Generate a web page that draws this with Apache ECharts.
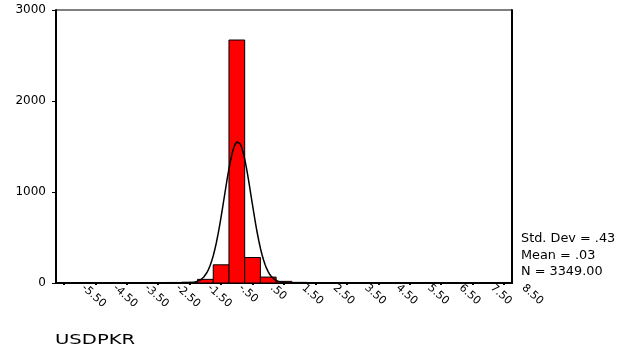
<!DOCTYPE html>
<html>
<head>
<meta charset="utf-8">
<script src="https://cdn.jsdelivr.net/npm/echarts@6/dist/echarts.min.js"></script>
<style>
  html, body { margin: 0; padding: 0; background: #fff; }
  #chart { width: 618px; height: 348px; }
</style>
</head>
<body>
<div id="chart"></div>
<script>
// Histogram of USDPKR returns with a fitted normal curve.
const variableName = 'USDPKR';
const binWidth = 0.5;
const binCenters = [-5.5, -5, -4.5, -4, -3.5, -3, -2.5, -2, -1.5, -1, -0.5, 0, 0.5, 1, 1.5,
                    2, 2.5, 3, 3.5, 4, 4.5, 5, 5.5, 6, 6.5, 7, 7.5, 8, 8.5];
const binCounts  = [1, 0, 0, 0, 1, 1, 2, 6, 9, 40, 200, 2670, 280, 65, 18,
                    7, 3, 1, 1, 0, 0, 0, 0, 0, 0, 0, 0, 0, 1];
const xTickValues = [-5.5, -4.5, -3.5, -2.5, -1.5, -0.5, 0.5, 1.5, 2.5, 3.5, 4.5, 5.5, 6.5, 7.5, 8.5];
const yTickValues = [0, 1000, 2000, 3000];
const stdDev = 0.43;
const mean = 0.03;
const nCases = 3349;

const xMin = -5.75, xMax = 8.75;
const font = 'DejaVu Sans';

// SPSS-style number format: ".50", "-.50", "-5.50"
function fmt(v) {
  const s = Math.abs(v).toFixed(2);
  const body = Math.abs(v) < 1 ? s.slice(1) : s;
  return (v < 0 ? '-' : '') + body;
}

// Normal density scaled to counts per bin (N x bin width), from the stated mean and SD.
const curve = [];
for (let i = 0; i <= 290; i++) {
  const x = xMin + i * 0.05;
  const z = (x - mean) / stdDev;
  curve.push([x, nCases * binWidth / (stdDev * Math.sqrt(2 * Math.PI)) * Math.exp(-0.5 * z * z)]);
}

const bars = binCenters.map((c, i) => [c, binCounts[i]]);

const chart = echarts.init(document.getElementById('chart'), null, { renderer: 'canvas' });
chart.setOption({
  animation: false,
  backgroundColor: '#fff',
  grid: {
    left: 56, right: 106, top: 10, bottom: 65,
    show: true, borderColor: '#000', borderWidth: 1
  },
  xAxis: {
    type: 'value', min: xMin, max: xMax,
    splitLine: { show: false },
    axisLine: { show: true, onZero: false, lineStyle: { color: '#000', width: 2 } },
    axisTick: { show: true, customValues: xTickValues, length: 2, inside: false,
                lineStyle: { color: '#000', width: 2 } },
    axisLabel: {
      customValues: xTickValues,
      formatter: fmt,
      rotate: -42,
      margin: -14,
      padding: [0, 0, 0, 26],
      color: '#000',
      fontFamily: font,
      fontSize: 11
    }
  },
  yAxis: [{
    type: 'value', min: 0, max: 3000, interval: 1000,
    splitLine: { show: false },
    axisLine: { show: true, onZero: false, lineStyle: { color: '#000', width: 2 } },
    axisTick: { show: true, length: 4, lineStyle: { color: '#000' } },
    axisLabel: {
      customValues: yTickValues,
      formatter: v => String(v),
      margin: 10, color: '#000', fontFamily: font, fontSize: 12
    }
  }, {
    type: 'value', min: 0, max: 3000, position: 'right',
    splitLine: { show: false },
    axisLine: { show: true, onZero: false, lineStyle: { color: '#000', width: 2 } },
    axisTick: { show: false }, axisLabel: { show: false }
  }],
  series: [{
    type: 'custom',
    data: bars,
    renderItem: function (params, api) {
      const c = api.value(0), v = api.value(1);
      if (!v) return null;
      const p0 = api.coord([c - binWidth / 2, v]);
      const p1 = api.coord([c + binWidth / 2, 0]);
      return {
        type: 'rect',
        shape: { x: p0[0], y: p0[1], width: p1[0] - p0[0], height: p1[1] - p0[1] },
        style: { fill: '#ff0000', stroke: '#000', lineWidth: 1 }
      };
    },
    z: 2
  }, {
    type: 'line',
    data: curve,
    showSymbol: false,
    symbol: 'none',
    lineStyle: { color: '#000', width: 1.5 },
    z: 3
  }],
  graphic: [
    { type: 'text', left: 521, top: 233, scaleX: 1.07,
      style: { text: 'Std. Dev = ' + fmt(stdDev), fill: '#000', font: '12px "DejaVu Sans"' } },
    { type: 'text', left: 521, top: 250, scaleX: 1.07,
      style: { text: 'Mean = ' + fmt(mean), fill: '#000', font: '12px "DejaVu Sans"' } },
    { type: 'text', left: 521, top: 266, scaleX: 1.07,
      style: { text: 'N = ' + nCases.toFixed(2), fill: '#000', font: '12px "DejaVu Sans"' } },
    { type: 'text', left: 55, top: 333, scaleX: 1.4,
      style: { text: variableName, fill: '#000', font: '14px "DejaVu Sans"' } }
  ]
});
</script>
</body>
</html>
